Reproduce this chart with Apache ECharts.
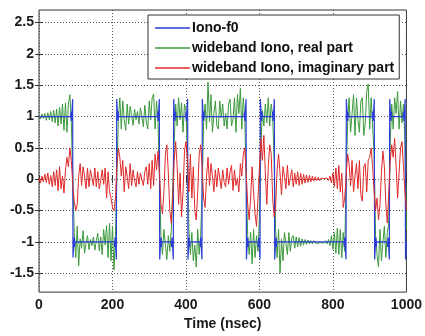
<!DOCTYPE html>
<html>
<head>
<meta charset="utf-8">
<script src="https://cdn.jsdelivr.net/npm/echarts@6/dist/echarts.min.js"></script>
<style>
html,body{margin:0;padding:0;background:#fff;}
#chart{width:425px;height:336px;}
</style>
</head>
<body>
<div id="chart"></div>
<script>
// ---- data ----
const seriesNames = ['Iono-f0', 'wideband Iono, real part', 'wideband Iono, imaginary part'];
const xTicks = [0, 200, 400, 600, 800, 1000];
const yTicks = [-1.5, -1, -0.5, 0, 0.5, 1, 1.5, 2, 2.5];
const sampleStep = 4; // ns between samples of the wideband traces

// Iono-f0: [time ns, value]
const ionoF0 = [
  [0,1],
  [86,1],[87,1.08],[88,0.93],[89,1],[91.5,1.28],[92.5,-1.25],[95,-1],[96,-0.93],[97,-1.08],[98,-1],
  [205,-1],[206,-1.08],[207,-0.93],[208,-1],[210.5,-1.28],[211.5,1.28],[214,1],[215,0.93],[216,1.08],[217,1],
  [322,1],[323,1.08],[324,0.93],[325,1],[327.5,1.28],[328.5,-1.28],[331,-1],[332,-0.93],[333,-1.08],[334,-1],
  [360,-1],[361,-1.08],[362,-0.93],[363,-1],[365.5,-1.28],[366.5,1.28],[369,1],[370,0.93],[371,1.08],[372,1],
  [399,1],[400,1.08],[401,0.93],[402,1],[404.5,1.28],[405.5,-1.28],[408,-1],[409,-0.93],[410,-1.08],[411,-1],
  [438,-1],[439,-1.08],[440,-0.93],[441,-1],[443.5,-1.28],[444.5,1.28],[447,1],[448,0.93],[449,1.08],[450,1],
  [558,1],[559,1.08],[560,0.93],[561,1],[563.5,1.28],[564.5,-1.28],[567,-1],[568,-0.93],[569,-1.08],[570,-1],
  [596,-1],[597,-1.08],[598,-0.93],[599,-1],[601.5,-1.28],[602.5,1.28],[605,1],[606,0.93],[607,1.08],[608,1],
  [635,1],[636,1.08],[637,0.93],[638,1],[640.5,1.28],[641.5,-1.28],[644,-1],[645,-0.93],[646,-1.08],[647,-1],
  [830,-1],[831,-1.08],[832,-0.93],[833,-1],[835.5,-1.28],[836.5,1.28],[839,1],[840,0.93],[841,1.08],[842,1],
  [907,1],[908,1.08],[909,0.93],[910,1],[912.5,1.28],[913.5,-1.28],[916,-1],[917,-0.93],[918,-1.08],[919,-1],
  [948,-1],[949,-1.08],[950,-0.93],[951,-1],[953.5,-1.28],[954.5,1.28],[957,1],[958,0.93],[959,1.08],[960,1],
  [991,1],[992,1.08],[993,0.93],[994,1],[996.5,1.28],[997.5,-1.28],[1000,-1]
];

// wideband real part, one value every 4 ns from 0 to 1000
const realPart = [
  1.02,0.96,1.04,0.97,1.05,0.94,1.06,0.95,1.08,0.92,1.10,0.90,1.12,0.85,1.15,0.88,1.20,0.78,1.22,0.75,1.20,1.35,0.90,0.00,-0.85,
  -1.25,-0.75,-1.38,-0.95,-1.10,-0.82,-1.18,-1.02,-0.90,-1.12,-0.96,-1.06,-0.92,-1.13,-0.98,-0.86,-1.14,-0.92,-1.20,-0.80,-1.05,-0.74,-1.25,-0.70,-1.30,
  -0.75,-1.45,-0.90,0.10,0.95,1.30,0.80,1.25,0.95,0.78,1.20,0.88,1.16,1.02,0.86,1.12,0.95,1.08,0.88,1.14,1.00,0.84,1.18,0.92,0.80,
  1.25,0.95,1.30,1.36,0.80,1.25,0.90,0.00,-0.90,-1.20,-0.80,-1.05,-1.28,-0.90,-1.15,-0.82,-0.80,0.60,1.20,0.85,1.30,0.95,1.22,0.75,1.20,
  1.10,0.40,-0.80,-1.20,-0.85,-1.30,-1.05,-1.40,-0.80,-1.20,-0.90,-0.20,0.90,1.20,0.80,1.55,0.92,1.35,0.75,1.05,1.25,0.85,0.80,1.25,0.98,
  1.20,0.85,1.05,0.80,1.20,1.28,0.85,0.95,1.30,0.75,1.35,1.05,1.45,0.80,1.30,1.00,0.00,-0.90,-1.20,-0.85,-1.35,-0.80,-1.25,-0.90,-1.15,
  -0.60,0.50,1.10,0.85,1.20,0.90,1.30,0.85,1.20,1.00,0.30,-0.80,-1.25,-0.80,-1.50,-0.95,-1.30,-0.85,-1.02,-1.20,-0.85,-1.15,-0.94,-0.90,-1.10,
  -0.92,-1.08,-0.93,-1.07,-0.95,-1.05,-0.96,-1.04,-0.97,-1.03,-0.98,-1.03,-0.98,-1.02,-0.99,-1.02,-0.99,-1.01,-0.99,-1.02,-0.98,-1.03,-0.96,-1.06,-0.90,
  -1.12,-0.85,-1.18,-0.78,-1.20,-0.80,-1.25,-0.85,-1.15,0.00,0.90,1.30,0.75,1.05,1.35,0.70,1.30,0.95,0.75,1.25,1.30,0.70,0.90,1.40,1.52,
  0.80,1.30,0.85,0.40,-0.90,-1.20,-1.40,-0.80,-1.30,-1.00,-0.75,-1.25,-0.85,-0.70,0.60,1.20,0.80,1.30,1.05,1.40,0.80,1.25,0.90,1.20,0.60,-0.80
];

// wideband imaginary part, one value every 4 ns from 0 to 1000
const imagPart = [
  0.02,-0.06,0.05,-0.04,0.08,-0.05,0.10,-0.08,0.06,-0.12,0.12,-0.10,0.15,-0.18,0.20,-0.15,0.05,-0.22,0.15,0.35,0.20,0.50,0.30,-0.10,-0.35,
  -0.50,-0.40,0.05,0.25,-0.10,0.20,0.05,-0.15,0.18,-0.12,0.15,0.02,-0.10,0.18,-0.12,0.12,-0.15,-0.02,0.15,-0.08,0.18,-0.30,0.12,-0.20,-0.30,
  -0.45,-0.50,-0.30,0.20,0.50,0.35,0.05,0.30,-0.20,0.20,0.05,-0.15,0.25,-0.10,0.15,-0.02,-0.12,0.12,-0.08,0.10,0.00,-0.10,0.12,0.20,-0.08,
  0.25,-0.15,0.30,-0.10,0.40,0.15,0.45,0.10,-0.40,-0.55,-0.20,0.40,0.55,0.10,-0.50,-0.70,-0.30,0.30,0.60,0.20,-0.40,0.10,-0.60,-0.20,0.45,
  0.60,0.30,-0.20,0.40,-0.30,0.20,-0.50,-0.65,-0.20,0.40,0.55,0.20,-0.30,-0.45,0.05,0.35,-0.10,0.25,0.05,-0.20,0.15,-0.12,0.18,0.02,-0.15,
  0.15,-0.05,-0.12,0.18,-0.08,0.12,0.22,-0.18,0.15,-0.10,0.02,-0.20,0.25,0.05,0.40,0.50,0.10,-0.40,-0.65,-0.30,0.20,-0.20,-0.55,-0.75,-0.30,
  0.20,0.65,0.30,0.70,0.10,-0.40,0.20,0.55,0.40,-0.30,-0.60,-0.45,0.15,0.40,0.10,-0.25,0.20,0.05,-0.15,0.22,-0.10,0.02,0.15,-0.12,0.10,
  -0.08,0.12,-0.10,0.10,-0.08,0.08,-0.06,0.07,-0.05,0.06,-0.04,0.05,-0.03,0.04,-0.02,0.03,-0.02,0.02,0.00,0.01,0.00,0.02,-0.02,0.05,-0.06,
  0.10,-0.12,0.18,-0.15,0.22,-0.20,0.10,-0.45,-0.30,0.05,0.40,0.25,-0.10,0.30,-0.20,0.05,0.25,-0.15,0.30,-0.25,-0.35,0.20,0.25,-0.20,0.30,
  0.35,0.50,0.20,-0.20,-0.50,-0.30,-0.65,-0.40,0.10,0.45,0.20,-0.40,-0.70,-0.20,0.30,0.55,0.35,0.65,0.20,-0.30,0.10,0.50,0.60,0.20,-0.20,-0.50
];

// ---- build chart ----
const toPairs = arr => arr.map((v, i) => [i * sampleStep, v]);
const FONT = '"Liberation Sans", Arial, sans-serif';
const textBase = { fontFamily: FONT, fontSize: 14, fontWeight: 'bold', color: '#1a1a1a' };
const gridLine = { show: true, lineStyle: { color: '#555', width: 1, type: [1, 2] } };
const plainNum = v => String(v);

const chart = echarts.init(document.getElementById('chart'), null, { renderer: 'canvas' });
chart.setOption({
  animation: false,
  backgroundColor: '#fff',
  grid: { left: 39, right: 16, top: 10, bottom: 38, show: true, borderColor: '#333', borderWidth: 1, backgroundColor: 'transparent' },
  legend: {
    orient: 'vertical', left: 148, top: 15,
    data: seriesNames,
    icon: 'rect',
    itemWidth: 35, itemHeight: 1.5, itemGap: 6,
    padding: [6, 5, 4, 7],
    backgroundColor: '#fff', borderColor: '#333', borderWidth: 1, borderRadius: 0,
    textStyle: { fontFamily: FONT, fontSize: 14, fontWeight: 'bold', color: '#111', lineHeight: 14, padding: [0, 0, 0, -3] },
    z: 10
  },
  xAxis: [
    {
      type: 'value', min: 0, max: 1000, interval: 200, position: 'bottom',
      name: 'Time (nsec)', nameLocation: 'middle', nameGap: 22,
      nameTextStyle: textBase,
      axisLine: { show: false },
      axisTick: { show: true, inside: true, length: 4, lineStyle: { color: '#333' } },
      axisLabel: Object.assign({ margin: 6, showMinLabel: true, showMaxLabel: true, formatter: plainNum }, textBase),
      splitLine: gridLine
    },
    {
      type: 'value', min: 0, max: 1000, interval: 200, position: 'top',
      axisLine: { show: false },
      axisTick: { show: true, inside: true, length: 4, lineStyle: { color: '#333' } },
      axisLabel: { show: false }, splitLine: { show: false }
    }
  ],
  yAxis: [
    {
      type: 'value', min: -1.8, max: 2.7, position: 'left',
      axisLine: { show: false },
      axisTick: { show: true, inside: true, length: 4, lineStyle: { color: '#333' }, customValues: yTicks },
      axisLabel: Object.assign({ margin: 5, customValues: yTicks, formatter: plainNum }, textBase),
      splitLine: gridLine
    },
    {
      type: 'value', min: -1.8, max: 2.7, position: 'right',
      axisLine: { show: false },
      axisTick: { show: true, inside: true, length: 4, lineStyle: { color: '#333' }, customValues: yTicks },
      axisLabel: { show: false }, splitLine: { show: false }
    }
  ],
  series: [
    {
      name: seriesNames[1], type: 'line', data: toPairs(realPart), symbol: 'none', z: 2,
      color: '#3c9a3c', lineStyle: { width: 1, color: '#3c9a3c' }
    },
    {
      name: seriesNames[0], type: 'line', data: ionoF0, symbol: 'none', z: 3,
      color: '#2b3fd6', lineStyle: { width: 1.2, color: '#2b3fd6' }
    },
    {
      name: seriesNames[2], type: 'line', data: toPairs(imagPart), symbol: 'none', z: 4,
      color: '#e02a2a', lineStyle: { width: 1, color: '#e02a2a' }
    }
  ]
});
</script>
</body>
</html>
